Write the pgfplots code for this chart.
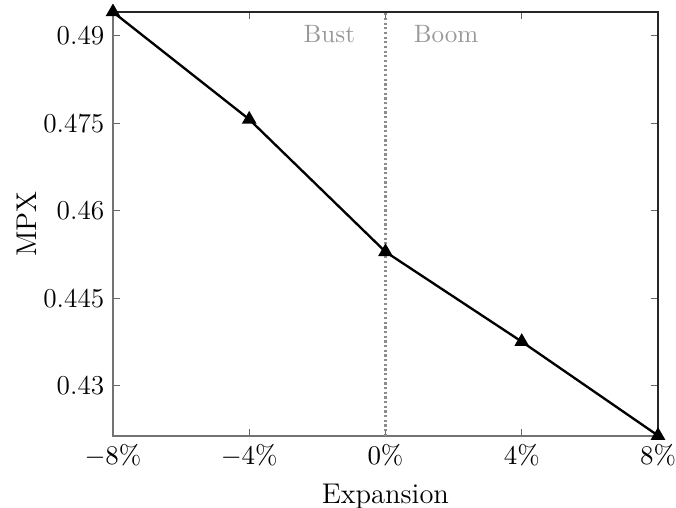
\documentclass[border=0pt]{standalone}
\usepackage{pgfplots}
\pgfplotsset{compat=1.18}
\usetikzlibrary{calc}
\begin{document}
\begin{tikzpicture}
\begin{axis}[
  name=ax,
  scale only axis,
  width=221.6pt, height=172.4pt,
  xmin=-8, xmax=8,
  ymin=0.42143, ymax=0.4941,
  xtick={-8,-4,0,4,8},
  xticklabels={$-8\%$,$-4\%$,$0\%$,$4\%$,$8\%$},
  ytick={0.43,0.445,0.46,0.475,0.49},
  yticklabels={0.43,0.445,0.46,0.475,0.49},
  tick align=inside,
  major tick length=3pt,
  tick style={black!60, line width=0.4pt},
  axis line style={black!55, line width=0.5pt},
  xlabel={Expansion}, ylabel={MPX},
  label style={font=\fontsize{11.6}{13}\selectfont},
  ylabel style={yshift=-4pt},
  tick label style={font=\fontsize{11.1}{13}\selectfont},
  clip=false,
]
\addplot[black!45, densely dotted, line width=0.9pt] coordinates {(0,0.42143) (0,0.4941)};
\node[text=black!40, anchor=east, inner sep=0pt, font=\fontsize{10.2}{12}\selectfont] at (axis cs:-0.88,0.4903) {Bust};
\node[text=black!40, anchor=west, inner sep=0pt, font=\fontsize{10.2}{12}\selectfont] at (axis cs:0.82,0.4903) {Boom};
\draw[black!85, line width=0.5pt] (axis cs:-8,0.4941) -- (axis cs:8,0.4941) -- (axis cs:8,0.42143);
\addplot[black, line width=0.95pt, mark=triangle*, mark size=2.5pt] coordinates {
  (-8,0.4941) (-4,0.4757) (0,0.4530) (4,0.4376) (8,0.4215)
};
\end{axis}
\pgfresetboundingbox
\path[use as bounding box] ($(ax.south west)+(-45.93pt,-29.27pt)$) rectangle ($(ax.north east)+(7.32pt,4.88pt)$);
\end{tikzpicture}
\end{document}
